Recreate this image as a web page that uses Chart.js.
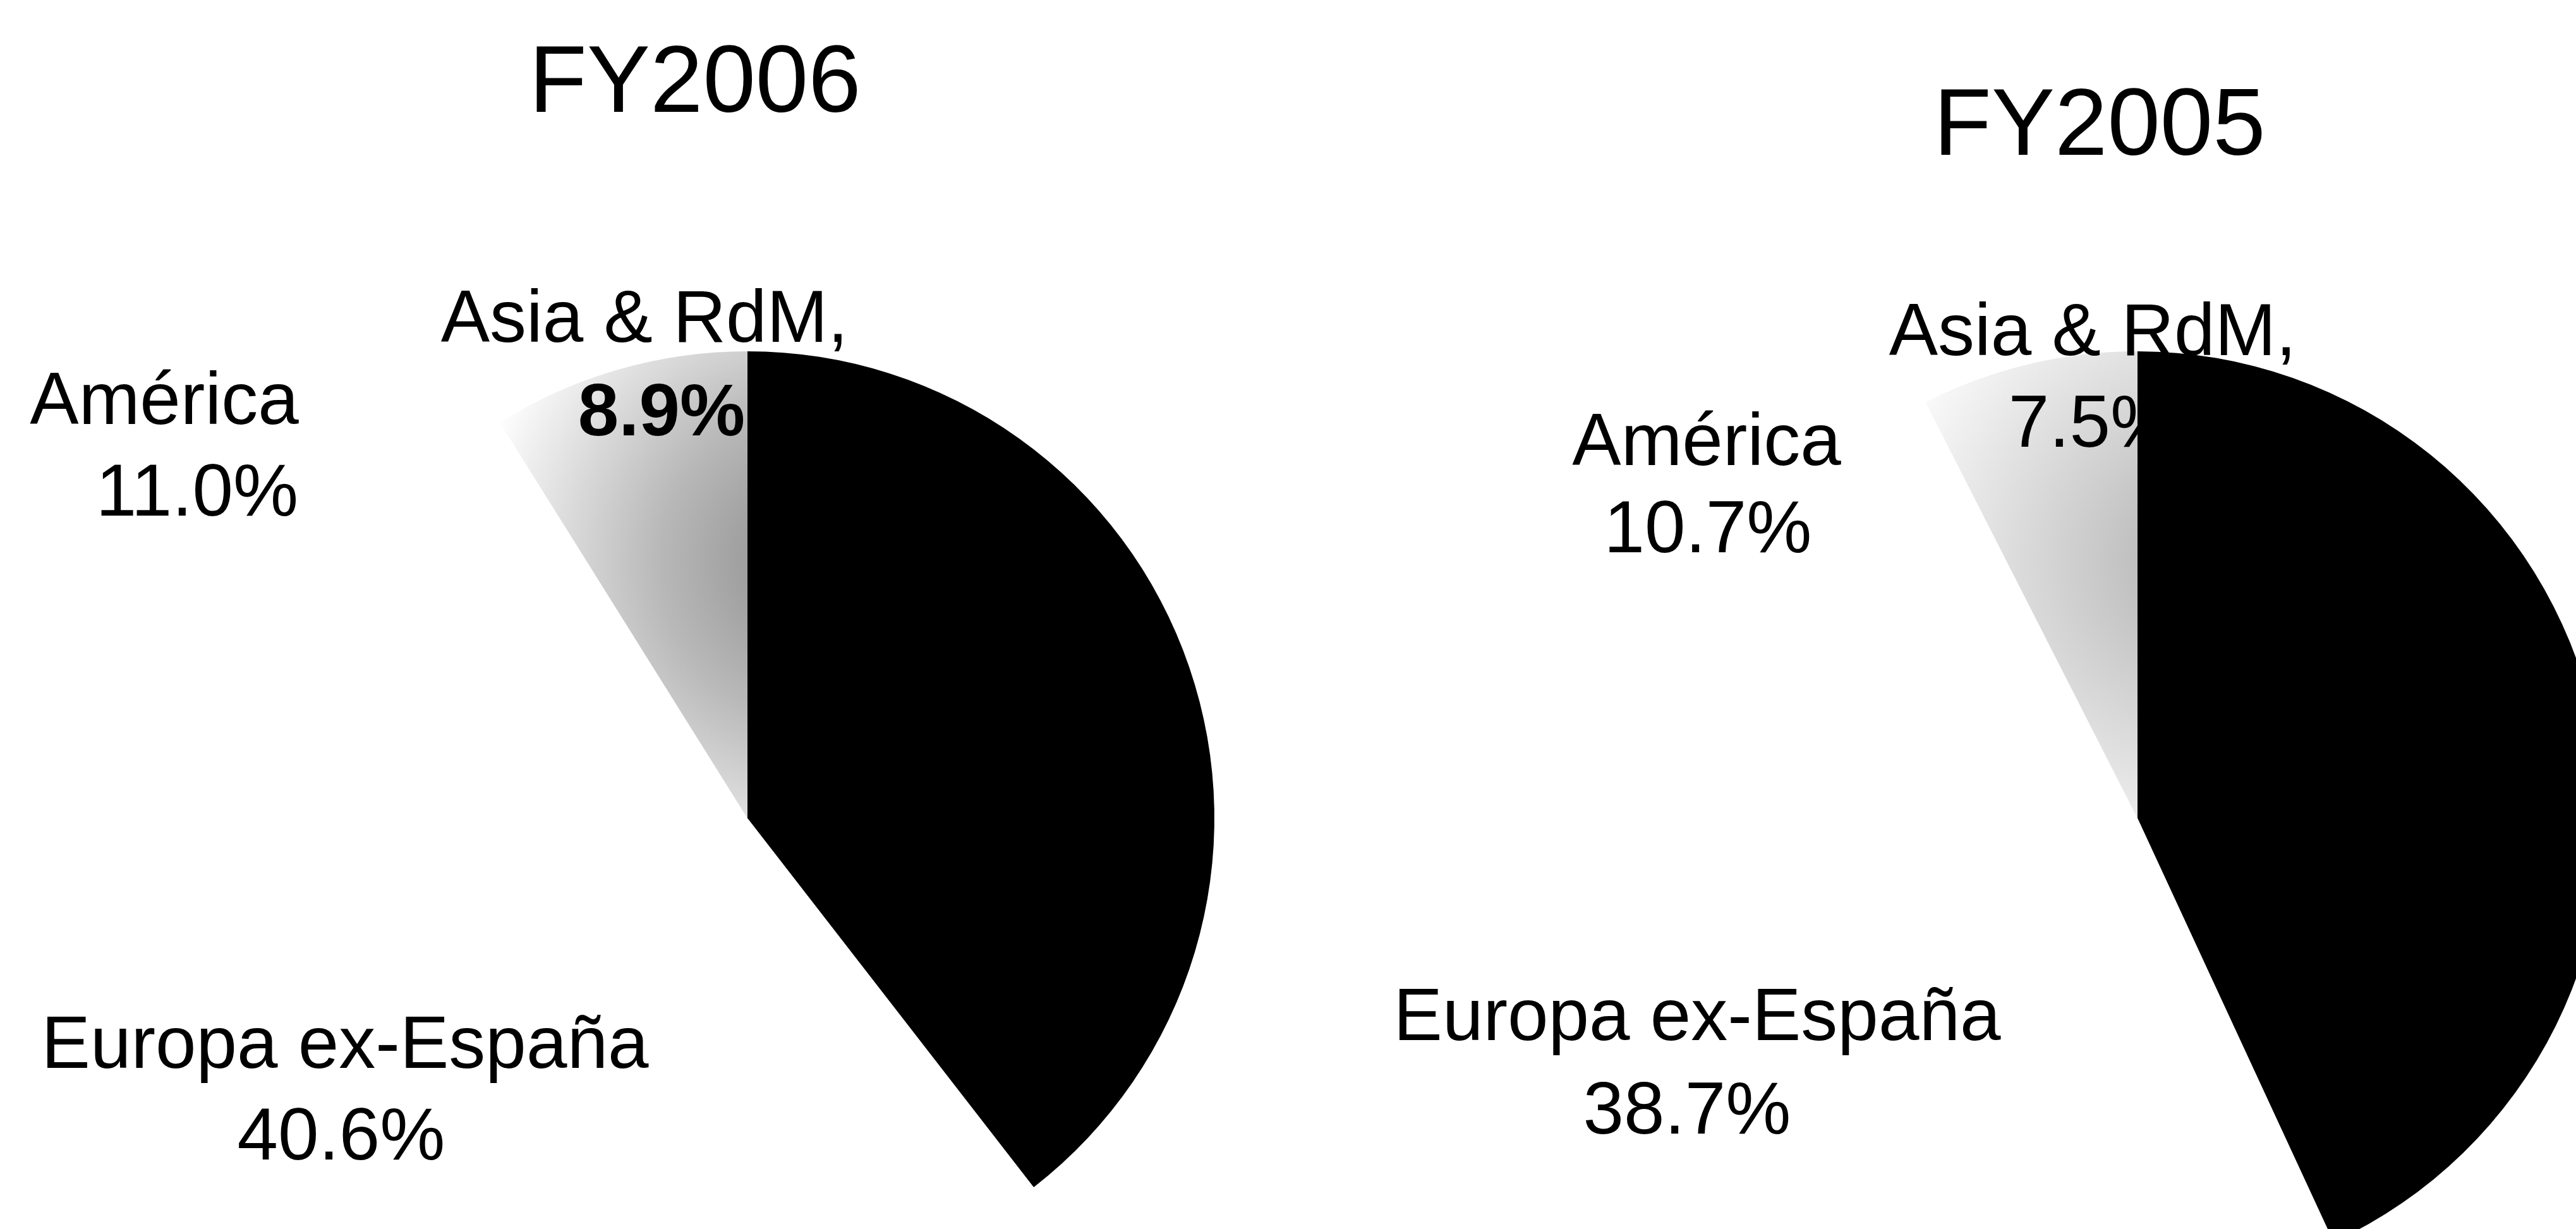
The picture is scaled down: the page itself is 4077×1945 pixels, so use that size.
<!DOCTYPE html>
<html>
<head>
<meta charset="utf-8">
<title>Ventas por región FY2006 / FY2005</title>
<script src="https://cdn.jsdelivr.net/npm/chart.js@4.4.0/dist/chart.umd.min.js"></script>
<style>
  html, body { margin:0; padding:0; background:#fff; width:4077px; height:1945px; overflow:hidden; }
  .box { position:absolute; left:0; top:0; width:4300px; height:2100px; }
</style>
</head>
<body>
<div class="box"><canvas id="pie2006"></canvas></div>
<div class="box"><canvas id="pie2005"></canvas></div>
<script>
const regions = ['España', 'Europa ex-España', 'América', 'Asia & RdM'];
const labelNames = ['España', 'Europa ex-España', 'América', 'Asia & RdM,'];
const fy2006 = [39.5, 40.6, 11.0, 8.9];
const fy2005 = [43.1, 38.7, 10.7, 7.5];
const years = ['FY2006', 'FY2005'];

const FONT = '"Liberation Sans", Arial, sans-serif';

// black for España, white for the two middle slices, faded grey for Asia
function sliceColors(grey, mid) {
  return function(c) {
    const i = c.dataIndex;
    if (i === 0) return '#000000';
    if (i !== 3) return '#ffffff';
    const area = c.chart.chartArea;
    if (!area) return grey;
    const cx = (area.left + area.right) / 2;
    const cy = (area.top + area.bottom) / 2;
    const r = (area.right - area.left) / 2;
    // darkest along the upper part of the vertical edge, fading left and down
    const fx = cx + r * 0.15, fy = cy - r * 0.55;
    const g = c.chart.ctx.createRadialGradient(fx, fy, 0, fx, fy, r * 0.75);
    g.addColorStop(0, grey);
    g.addColorStop(0.45, mid);
    g.addColorStop(1, '#ffffff');
    return g;
  };
}

// titles and slice labels, placed relative to the pie centre
const textPlugin = {
  id: 'pieText',
  afterDatasetsDraw(chart, args, opts) {
    const arc = chart.getDatasetMeta(0).data[0];
    const cx = arc.x, cy = arc.y;
    const ctx = chart.ctx;
    const values = chart.data.datasets[0].data;
    ctx.save();
    ctx.fillStyle = '#000';
    ctx.textAlign = 'center';
    ctx.textBaseline = 'alphabetic';
    ctx.font = '150px ' + FONT;
    ctx.fillText(opts.title, cx + opts.titlePos[0], cy + opts.titlePos[1]);
    opts.pos.forEach((p, i) => {
      if (!p) return;
      ctx.font = '116px ' + FONT;
      ctx.fillText(labelNames[i], cx + p[0], cy + p[1]);
      ctx.font = (i === opts.boldIndex ? 'bold ' : '') + '116px ' + FONT;
      ctx.fillText(values[i].toFixed(1) + '%', cx + p[2], cy + p[3]);
    });
    ctx.restore();
  }
};

function makePie(id, values, title, padding, grey, mid, textOpts) {
  return new Chart(document.getElementById(id), {
    type: 'pie',
    data: {
      labels: regions,
      datasets: [{
        data: values,
        backgroundColor: sliceColors(grey, mid),
        borderWidth: 0,
        hoverOffset: 0
      }]
    },
    options: {
      responsive: true,
      maintainAspectRatio: false,
      animation: false,
      layout: { padding: padding },
      plugins: {
        legend: { display: false },
        tooltip: { enabled: false },
        pieText: Object.assign({ title: title }, textOpts)
      }
    },
    plugins: [textPlugin]
  });
}

makePie('pie2006', fy2006, years[0],
  { left: 444, right: 2378, top: 556, bottom: 66 }, '#8a8a8a', '#b8b8b8', {
    titlePos: [-83, -1118],
    boldIndex: 3,
    pos: [null, [-637, 395, -643, 540], [-923, -624, -871, -479], [-163, -754, -136, -606]]
  });

makePie('pie2005', fy2005, years[1],
  { left: 2644, right: 178, top: 556, bottom: 66 }, '#b0b0b0', '#d4d4d4', {
    titlePos: [-60, -1050],
    boldIndex: -1,
    pos: [null, [-697, 351, -713, 499], [-682, -559, -680, -421], [-71, -733, -72, -588]]
  });
</script>
</body>
</html>
